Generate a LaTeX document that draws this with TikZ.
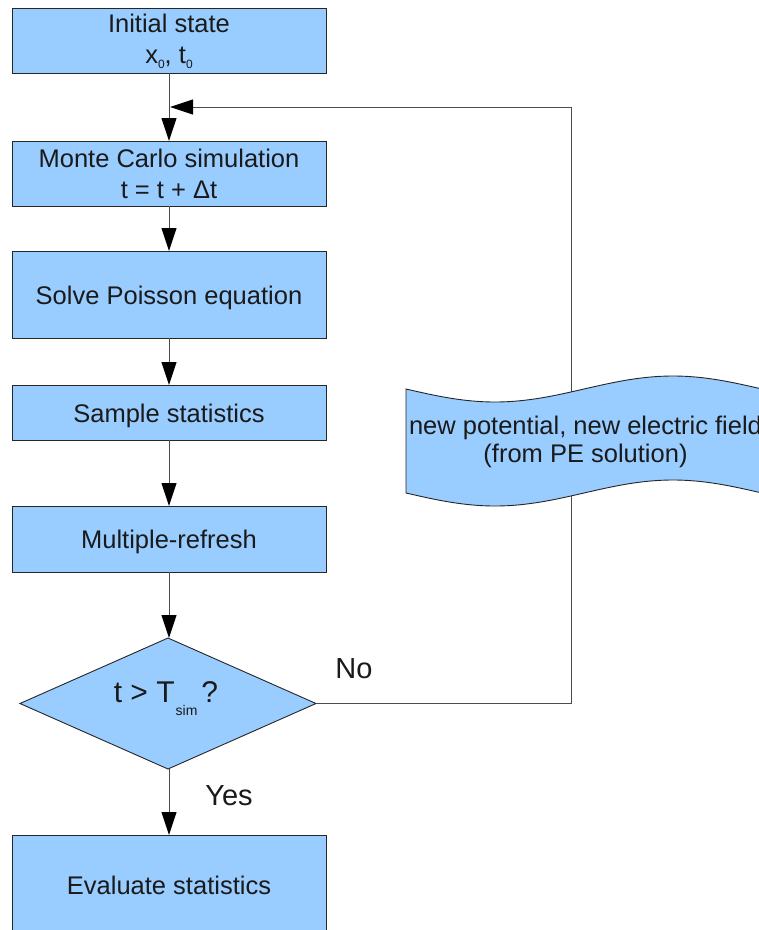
\documentclass[tikz,border=0pt]{standalone}
\usepackage{fontspec}
\setmainfont{Liberation Sans}
\usetikzlibrary{shapes.geometric,arrows.meta}
\definecolor{boxfill}{HTML}{99CCFF}
\definecolor{txt}{HTML}{1A1A1A}
\newcommand{\lowsub}[2]{\raisebox{-#2pt}{\fontsize{12}{12}\selectfont #1}}
\tikzset{
  box/.style={draw=black!85, line width=0.9pt, fill=boxfill, rectangle, minimum width=314pt, inner sep=0pt, outer sep=0pt, text=txt, align=center, font=\fontsize{25.5}{31}\selectfont},
  onebox/.style={box, text height=19pt, text depth=0pt},
  decision/.style={draw=black!85, line width=0.9pt, fill=boxfill, diamond, aspect=2.26, minimum width=296pt, minimum height=131pt, inner sep=0pt, outer sep=0pt, text=txt},
  conn/.style={draw=black!70, line width=1pt, -{Triangle[length=23pt,width=15pt,black]}},
  lbl/.style={text=txt, font=\fontsize{29}{34}\selectfont, inner sep=0pt}
}
\begin{document}
\begin{tikzpicture}[x=1pt,y=-1pt]
\useasboundingbox (0,0) rectangle (759,930);
\fill[white] (0,0) rectangle (759,930);
% boxes
\node[box, minimum height=65pt] (init) at (169,40.5) {\rule{0pt}{20pt}Initial state\\x\lowsub{0}{5}, t\lowsub{0}{5}};
\node[box, minimum height=65pt] (mc) at (169,173.5) {\rule{0pt}{20pt}Monte Carlo simulation\\t = t + Δt};
\node[onebox, minimum height=87pt] (solve) at (169,294.5) {Solve Poisson equation};
\node[onebox, minimum height=55pt] (sample) at (169,412.5) {Sample statistics};
\node[onebox, minimum height=66pt] (multi) at (169,539) {Multiple-refresh};
\node[decision] (dec) at (168,703.5) {};
\node[text=txt, inner sep=0pt, font=\fontsize{30}{34}\selectfont] (dectext) at (166,699) {t > T\raisebox{-13pt}{\fontsize{14}{14}\selectfont\hspace{1pt}sim}\hspace{4pt}?};
\node[box, minimum height=110pt, anchor=north] (eval) at (169,835) {};
\node[text=txt, font=\fontsize{25.5}{31}\selectfont, inner sep=0pt, anchor=base] (evaltext) at (169,894.3) {Evaluate statistics};
% connectors
\coordinate (join) at (170,107);
\coordinate (corner) at (571,107);
\draw[conn] (init.south) -- (mc.north);
\draw[conn] (mc.south) -- (solve.north);
\draw[conn] (solve.south) -- (sample.north);
\draw[conn] (sample.south) -- (multi.north);
\draw[conn] (multi.south) -- (multi.south |- dec.north);
\draw[conn] (dec.south -| eval.north) -- (eval.north);
\draw[conn] (dec.east) -| (corner) -- (join);
% tape shape
\path[draw=black!85, line width=0.9pt, fill=boxfill]
  (406,389) sin (495,402) cos (584,389) sin (673,376) cos (762,389)
  -- (762,493) sin (673,480) cos (584,493) sin (495,506) cos (406,493) -- cycle;
\node[text=txt, align=center, font=\fontsize{25.5}{28}\selectfont, inner sep=0pt] (tape) at (585.5,442) {new potential, new electric field\\(from PE solution)};
% labels
\node[lbl] (no) at (354,669) {No};
\node[lbl] (yes) at (229,796) {Yes};
\end{tikzpicture}
\end{document}
